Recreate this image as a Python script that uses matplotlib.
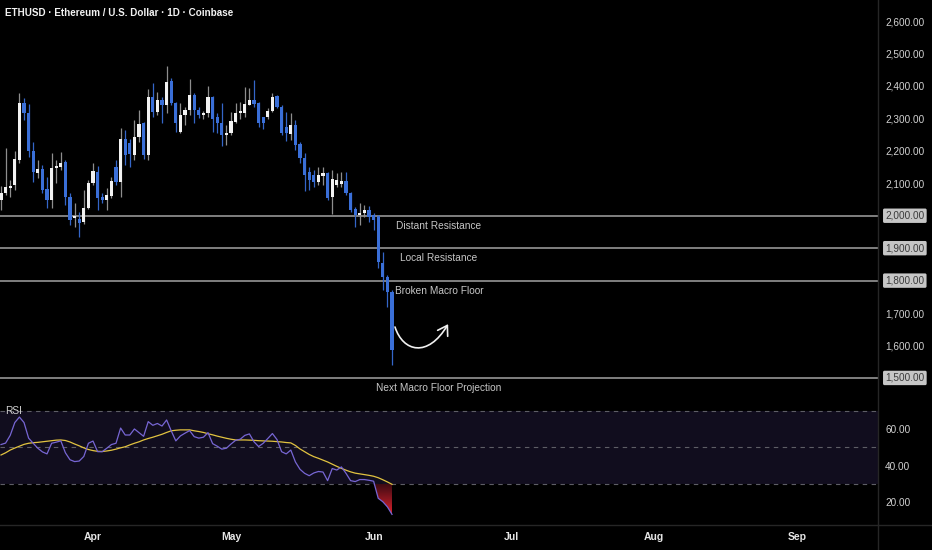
"""
ETHUSD 日线 K 线 + RSI 面板 (TradingView 暗色风格) 复刻。

输出: out.png (932x550)
"""

import matplotlib

matplotlib.use("Agg")

import matplotlib.pyplot as plt
import numpy as np
import pandas as pd
from matplotlib.colors import LinearSegmentedColormap
from matplotlib.lines import Line2D
from matplotlib.patches import FancyArrowPatch
from matplotlib.path import Path

# ============================ DATA ============================
START_DATE = "2023-03-12"  # 第一根 K 线

OPEN = [
    2048, 2070, 2085, 2095, 2172, 2347, 2316, 2200, 2132, 2144,
    2082, 2048, 2147, 2150, 2165, 2058, 1993, 1990, 1980, 2024,
    2101, 2135, 2058, 2048, 2061, 2150, 2104, 2236, 2225, 2187,
    2243, 2286, 2187, 2366, 2320, 2357, 2341, 2415, 2347, 2258,
    2310, 2326, 2372, 2326, 2310, 2316, 2366, 2304, 2286, 2249,
    2255, 2289, 2316, 2316, 2341, 2357, 2347, 2304, 2304, 2323,
    2369, 2335, 2273, 2252, 2280, 2221, 2178, 2135, 2126, 2104,
    2122, 2132, 2058, 2095, 2098, 2107, 2070, 2021, 2002, 2008,
    2018, 2002, 1999, 1854, 1811, 1765,
]
HIGH = [
    2092, 2209, 2110, 2200, 2378, 2363, 2344, 2227, 2172, 2156,
    2120, 2193, 2172, 2196, 2172, 2070, 2039, 2012, 2080, 2110,
    2162, 2153, 2070, 2085, 2120, 2172, 2270, 2264, 2236, 2295,
    2326, 2289, 2390, 2409, 2381, 2366, 2461, 2424, 2350, 2347,
    2335, 2421, 2378, 2335, 2323, 2400, 2369, 2316, 2347, 2280,
    2320, 2347, 2350, 2397, 2394, 2418, 2350, 2304, 2332, 2378,
    2372, 2341, 2320, 2316, 2295, 2227, 2193, 2150, 2141, 2150,
    2150, 2135, 2141, 2132, 2135, 2135, 2073, 2027, 2039, 2033,
    2030, 2008, 2002, 1888, 1817, 1771,
]
LOW = [
    2017, 2065, 2058, 2080, 2162, 2295, 2181, 2104, 2116, 2070,
    2024, 2024, 2101, 2141, 2033, 1971, 1965, 1934, 1975, 2020,
    2095, 2017, 2040, 2017, 2055, 2095, 2058, 2156, 2150, 2172,
    2227, 2175, 2172, 2304, 2310, 2286, 2316, 2341, 2258, 2255,
    2280, 2310, 2286, 2300, 2298, 2304, 2258, 2255, 2215, 2218,
    2249, 2286, 2298, 2304, 2341, 2335, 2273, 2267, 2298, 2320,
    2332, 2249, 2230, 2233, 2203, 2162, 2076, 2080, 2088, 2095,
    2095, 2048, 2005, 2088, 2088, 2064, 2012, 1965, 1971, 1996,
    1980, 1956, 1839, 1771, 1718, 1540,
]
CLOSE = [
    2070, 2088, 2092, 2175, 2347, 2316, 2200, 2135, 2144, 2079,
    2048, 2147, 2153, 2162, 2058, 1987, 1999, 1978, 2024, 2101,
    2138, 2055, 2048, 2064, 2107, 2104, 2236, 2187, 2190, 2243,
    2283, 2187, 2366, 2320, 2357, 2341, 2412, 2347, 2286, 2310,
    2326, 2372, 2326, 2310, 2316, 2366, 2298, 2286, 2249, 2255,
    2292, 2316, 2323, 2344, 2357, 2344, 2286, 2286, 2323, 2366,
    2335, 2255, 2255, 2280, 2218, 2178, 2126, 2110, 2104, 2126,
    2132, 2055, 2113, 2110, 2107, 2070, 2018, 2002, 2008, 2018,
    1996, 1987, 1857, 1811, 1765, 1585,
]

RSI = [
    51.5, 52.3, 56.5, 63.5, 66.5, 63.5, 55.0, 52.2, 49.5, 47.5,
    46.4, 52.2, 52.8, 53.5, 47.0, 43.2, 42.2, 42.5, 45.0, 52.2,
    53.4, 47.6, 47.6, 49.5, 51.5, 52.2, 60.5, 56.7, 56.7, 60.0,
    58.0, 56.0, 64.0, 62.0, 63.0, 61.6, 64.9, 59.0, 53.5, 56.2,
    57.7, 59.1, 55.8, 55.0, 55.5, 58.0, 52.0, 50.6, 49.0, 49.5,
    51.8, 53.8, 54.4, 56.5, 57.3, 53.0, 50.4, 52.2, 54.8, 57.5,
    54.2, 47.6, 46.4, 48.5, 42.0, 38.0, 35.8, 34.5, 36.0, 36.8,
    36.5, 31.8, 38.4, 37.6, 39.3, 35.8, 31.8, 31.3, 32.4, 32.4,
    32.0, 31.5, 22.2, 20.3, 17.5, 13.4,
]
RSI_MA = [
    45.8, 47.0, 48.5, 49.6, 50.6, 51.6, 52.2, 52.5, 52.7, 53.0,
    53.3, 53.6, 53.9, 54.0, 53.7, 52.9, 51.8, 50.8, 49.7, 48.8,
    48.2, 47.8, 47.7, 48.0, 48.4, 49.0, 49.7, 50.3, 51.3, 52.2,
    53.0, 54.0, 54.8, 55.5, 56.3, 57.1, 58.1, 59.0, 59.3, 59.5,
    59.5, 59.5, 59.0, 58.6, 58.1, 57.4, 56.8, 56.1, 55.5, 54.9,
    54.4, 54.0, 54.0, 54.0, 53.9, 53.8, 53.6, 53.5, 53.4, 53.3,
    53.1, 52.9, 52.6, 52.4, 51.0, 49.1, 47.6, 46.1, 44.9, 44.0,
    43.0, 42.0, 40.8, 39.6, 38.5, 37.5, 36.6, 35.9, 35.5, 35.1,
    34.7, 34.2, 33.4, 32.3, 31.1, 29.8,
]

LEVELS = [2000, 1900, 1800, 1500]
LEVEL_LABELS = [
    "Distant Resistance",
    "Local Resistance",
    "Broken Macro Floor",
    "Next Macro Floor Projection",
]
LABEL_BAR = 95.2  # 标注文字中心所在的 bar index

PRICE_TICKS = [1500, 1600, 1700, 1800, 1900, 2000, 2100, 2200, 2300, 2400, 2500, 2600]
RSI_TICKS = [20, 40, 60]
RSI_GUIDES = [30, 50, 70]
MONTH_STARTS = ["2023-04-01", "2023-05-01", "2023-06-01", "2023-07-01", "2023-08-01", "2023-09-01"]
MONTH_LABELS = ["Apr", "May", "Jun", "Jul", "Aug", "Sep"]

# 手绘弧形箭头 (bar index, price), 三次贝塞尔: 起点 / 控制点1 / 控制点2 / 终点
ARROW_X = [85.65, 87.4, 92.8, 97.2]
ARROW_Y = [1657, 1580, 1561, 1666]

TITLE = "ETHUSD · Ethereum / U.S. Dollar · 1D · Coinbase"
# ==============================================================

# --- 版面 (像素) ---
W, H = 932, 550
PLOT_RIGHT = 878
PRICE_BOTTOM = 400
RSI_BOTTOM = 523
X_LIM = (-0.22, 190.65)
PRICE_LIM = (1432, 2665)
RSI_LIM = (8.7, 75.8)

BG = "#000000"
UP_BODY = "#f2f2f2"
UP_WICK = "#8e8e8e"
DOWN_BODY = "#3a6fd8"
DOWN_WICK = "#3466c8"
TEXT = "#d2d2d2"
GRID_LINE = "#262626"

plt.rcParams["font.family"] = ["Liberation Sans", "DejaVu Sans"]


def draw_candles(ax, o, h, l, c):
    x = np.arange(len(o))
    up = c >= o
    wick_colors = np.where(up, UP_WICK, DOWN_WICK)
    body_colors = np.where(up, UP_BODY, DOWN_BODY)
    ax.vlines(x, l, h, colors=wick_colors, lw=0.9, zorder=2)
    body = np.maximum(np.abs(c - o), 5)
    ax.bar(x, body, bottom=np.minimum(o, c), width=0.7, color=body_colors, lw=0, zorder=3)


def draw_levels(ax):
    for level, label in zip(LEVELS, LEVEL_LABELS):
        ax.axhline(level, color="#8a8a8a", lw=1.3, zorder=1)
        ax.annotate(
            label, xy=(LABEL_BAR, level), xytext=(0, -7.3), textcoords="offset points",
            ha="center", va="center", color="#c6c6c6", fontsize=7.3,
        )
        # 右侧价格轴上的灰底标签
        ax.annotate(
            f"{level:,.2f}", xy=(1, level), xycoords=("axes fraction", "data"),
            xytext=(5.2, 0), textcoords="offset points", ha="left", va="center",
            fontsize=7.2, color="#3a3a3a", annotation_clip=False,
            bbox=dict(boxstyle="round,pad=0.22,rounding_size=0.15", fc="#c6c6c6", ec="none"),
        )


def draw_arrow(ax):
    path = Path(
        list(zip(ARROW_X, ARROW_Y)),
        [Path.MOVETO, Path.CURVE4, Path.CURVE4, Path.CURVE4],
    )
    arrow = FancyArrowPatch(
        path=path, arrowstyle="->,head_length=0.55,head_width=0.35",
        mutation_scale=12, color="#f0f0f0", lw=1.2, zorder=4,
    )
    ax.add_patch(arrow)


def draw_rsi(ax, rsi, rsi_ma):
    x = np.arange(len(rsi))
    ax.axhspan(RSI_GUIDES[0], RSI_GUIDES[-1], color="#110d1e", lw=0, zorder=0)
    for g in RSI_GUIDES:
        ax.axhline(g, color="#5e5e66", lw=0.8, ls=(0, (4, 4)), zorder=1)

    # 超卖区 (<30) 红色渐变填充
    coll = ax.fill_between(
        x, rsi, RSI_GUIDES[0], where=rsi <= RSI_GUIDES[0], interpolate=True,
        facecolor="none", edgecolor="none",
    )
    paths = coll.get_paths()
    if paths:
        cmap = LinearSegmentedColormap.from_list("oversold", ["#d8222c", "#3a0a12"])
        grad = np.linspace(0, 1, 64).reshape(-1, 1)
        im = ax.imshow(
            grad, extent=(x[0], x[-1], rsi.min(), RSI_GUIDES[0]), origin="lower",
            cmap=cmap, aspect="auto", zorder=2,
        )
        im.set_clip_path(paths[0], ax.transData)

    ax.plot(x, rsi_ma, color="#e2c340", lw=0.9, zorder=3)
    ax.plot(x, rsi, color="#7766d4", lw=0.9, zorder=4)
    ax.text(0.006, 0.91, "RSI", transform=ax.transAxes, ha="left", va="center",
            color=TEXT, fontsize=7.3)


def style_axis(ax):
    ax.set_facecolor(BG)
    for s in ax.spines.values():
        s.set_visible(False)
    ax.set_xlim(*X_LIM)
    ax.yaxis.tick_right()
    ax.tick_params(axis="y", length=0, pad=5.2, labelsize=7.2, labelcolor=TEXT)
    ax.tick_params(axis="x", length=0)


def main():
    o, h, l, c = (np.array(v, dtype=float) for v in (OPEN, HIGH, LOW, CLOSE))
    rsi = np.array(RSI)
    rsi_ma = np.array(RSI_MA)

    fig = plt.figure(figsize=(W / 100, H / 100), dpi=100, facecolor=BG)
    ax = fig.add_axes([0, 1 - PRICE_BOTTOM / H, PLOT_RIGHT / W, PRICE_BOTTOM / H])
    ax_rsi = fig.add_axes(
        [0, 1 - RSI_BOTTOM / H, PLOT_RIGHT / W, (RSI_BOTTOM - PRICE_BOTTOM) / H]
    )

    # --- 价格面板 ---
    style_axis(ax)
    draw_candles(ax, o, h, l, c)
    draw_levels(ax)
    draw_arrow(ax)
    ax.set_ylim(*PRICE_LIM)
    plain = [t for t in PRICE_TICKS if t not in LEVELS]
    ax.set_yticks(plain, [f"{t:,.2f}" for t in plain])
    ax.set_xticks([])

    # --- RSI 面板 ---
    style_axis(ax_rsi)
    draw_rsi(ax_rsi, rsi, rsi_ma)
    ax_rsi.set_xlim(*X_LIM)
    ax_rsi.set_ylim(*RSI_LIM)
    ax_rsi.set_yticks(RSI_TICKS, [f"{t:.2f}" for t in RSI_TICKS])

    start = pd.Timestamp(START_DATE)
    month_idx = [(pd.Timestamp(d) - start).days for d in MONTH_STARTS]
    ax_rsi.set_xticks(month_idx, MONTH_LABELS)
    ax_rsi.tick_params(axis="x", pad=6.3, labelsize=7.5, labelcolor="#e6e6e6")
    for lbl in ax_rsi.get_xticklabels():
        lbl.set_fontweight("bold")

    # 价格轴分隔线 + 时间轴分隔线
    fig.add_artist(Line2D([PLOT_RIGHT / W] * 2, [0, 1], transform=fig.transFigure,
                          color=GRID_LINE, lw=1))
    fig.add_artist(Line2D([0, 1], [1 - 524.5 / H] * 2, transform=fig.transFigure,
                          color=GRID_LINE, lw=1))

    fig.text(5 / W, 1 - 12.5 / H, TITLE, ha="left", va="center", color="#f2f2f2",
             fontsize=7.1, fontweight="bold")

    fig.savefig("out.png", dpi=100, facecolor=BG)


if __name__ == "__main__":
    main()
